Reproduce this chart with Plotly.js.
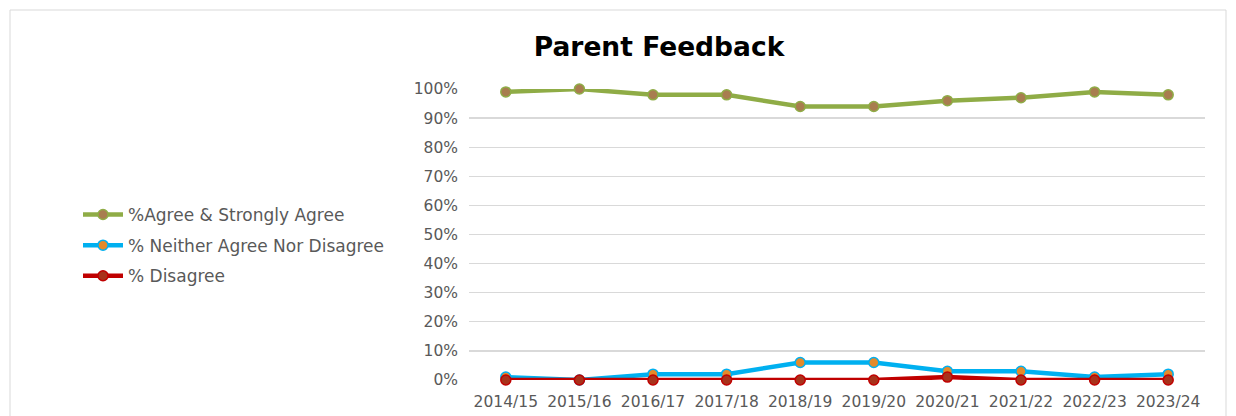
<!DOCTYPE html>
<html><head><meta charset="utf-8">
<script src="https://cdn.plot.ly/plotly-3.0.1.min.js"></script>
<style>html,body{margin:0;padding:0;background:#fff;}#chart{width:1236px;height:416px;}</style>
</head><body><div id="chart"></div>
<script>
var categories = ["2014/15","2015/16","2016/17","2017/18","2018/19","2019/20","2020/21","2021/22","2022/23","2023/24"];
var agree = [0.99, 1.00, 0.98, 0.98, 0.94, 0.94, 0.96, 0.97, 0.99, 0.98];
var neither = [0.01, 0.00, 0.02, 0.02, 0.06, 0.06, 0.03, 0.03, 0.01, 0.02];
var disagree = [0.00, 0.00, 0.00, 0.00, 0.00, 0.00, 0.01, 0.00, 0.00, 0.00];
var seriesNames = ["%Agree & Strongly Agree", "% Neither Agree Nor Disagree", "% Disagree"];
var tickVals = [0,0.1,0.2,0.3,0.4,0.5,0.6,0.7,0.8,0.9,1.0];
var tickText = ["0%","10%","20%","30%","40%","50%","60%","70%","80%","90%","100%"];

function tr(y, name, lc, mc, g){
  return {x: categories, y: y, name: name, type:'scatter', mode:'lines+markers',
    legendgroup: g, cliponaxis:false,
    line:{color:lc, width:4.5},
    marker:{color:mc, size:10, line:{color:lc, width:1.5}}};
}
var data = [
  tr(agree, seriesNames[0], '#8fac46', '#a87d4f', 'a'),
  tr(neither, seriesNames[1], '#00b0f0', '#e48a2a', 'b'),
  tr(disagree, seriesNames[2], '#c00000', '#a8321b', 'c')
];
var W = 736, H = 291, L = 469, B = 380;
function px(x){return (x-L)/W;}
function py(y){return (B-y)/H;}
var tickFont = {family:'DejaVu Sans, sans-serif', size:15.5, color:'#595959'};
var layout = {
  width:1236, height:416,
  margin:{l:469, r:1236-1205, t:89, b:36, pad:0},
  paper_bgcolor:'#fff', plot_bgcolor:'#fff',
  title:{text:'<b>Parent Feedback</b>', x:659/1236, xanchor:'center', y:1-47/416, yanchor:'middle',
    font:{family:'DejaVu Sans, sans-serif', size:26.5, color:'#000'}},
  xaxis:{type:'category', range:[-0.5, 9.5], showgrid:false, zeroline:false, showline:false,
    ticks:'', ticklabelstandoff:10, tickfont:tickFont, fixedrange:true},
  yaxis:{range:[0,1], tickvals:tickVals, ticktext:tickText, showgrid:true, gridcolor:'#d9d9d9', gridwidth:1.3,
    zeroline:false, showline:false, ticks:'', ticklen:0, ticklabelstandoff:10,
    tickfont:tickFont, fixedrange:true},
  showlegend:true,
  legend:{x:px(78), y:py(197), xanchor:'left', yanchor:'top', tracegroupgap:5.5,
    font:{family:'DejaVu Sans, sans-serif', size:17, color:'#595959'},
    bgcolor:'rgba(0,0,0,0)', itemwidth:40},
  shapes:[{type:'rect', xref:'paper', yref:'paper', x0:px(10), x1:px(1226), y0:py(10), y1:py(430),
    line:{color:'#d9d9d9', width:1}, fillcolor:'rgba(0,0,0,0)', layer:'below'}]
};
Plotly.newPlot('chart', data, layout, {displayModeBar:false, staticPlot:true});
</script></body></html>
